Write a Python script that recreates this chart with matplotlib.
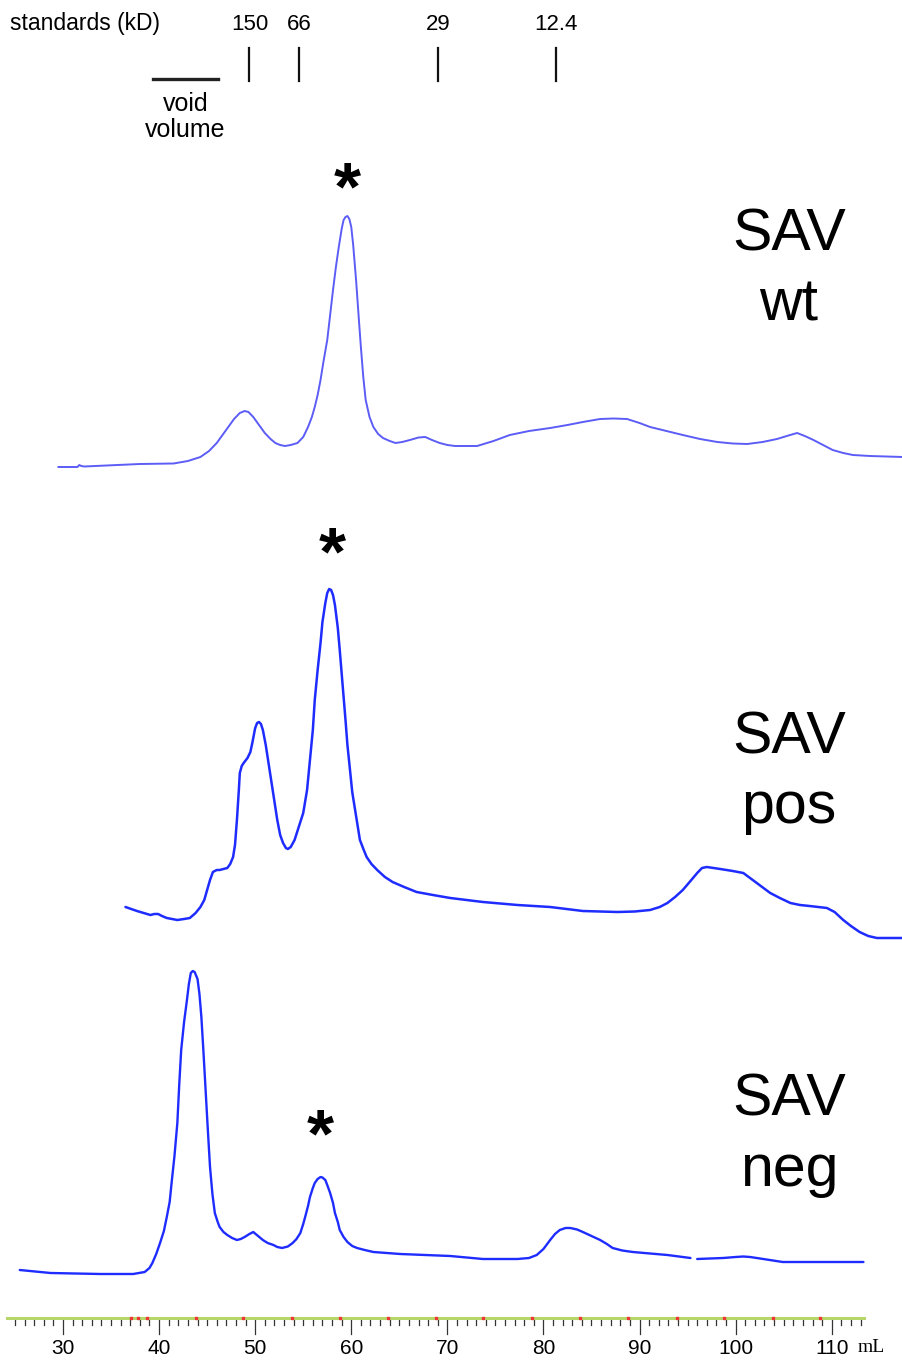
import numpy as np
import matplotlib
matplotlib.use("Agg")
import matplotlib.pyplot as plt

plt.rcParams["font.family"] = ["Liberation Sans", "DejaVu Sans"]

# elution volume (mL) and relative absorbance (a.u.)
wt_ml = [29.5, 31.5, 31.7, 31.9, 32.2, 38.0, 41.5, 43.0, 44.3, 45.2, 46.0, 46.6, 47.2, 47.8,
         48.4, 48.9, 49.3, 49.8, 50.4, 51.0, 51.6, 52.1, 52.6, 53.1, 53.7, 54.4, 55.0, 55.5,
         55.9, 56.2, 56.5, 56.8, 57.1, 57.5, 57.8, 58.1, 58.4, 58.7, 59.0, 59.2, 59.4, 59.6,
         59.8, 60.0, 60.2, 60.5, 60.75, 61.0, 61.25, 61.5, 61.9, 62.3, 62.8, 63.3, 64.0, 64.6,
         65.3, 66.1, 67.0, 67.7, 68.4, 69.2, 70.0, 70.8, 73.1, 74.8, 76.5, 78.5, 80.7, 82.5,
         84.1, 85.9, 87.3, 88.7, 90.0, 91.1, 92.8, 94.5, 96.3, 98.1, 99.7, 101.2, 102.8, 104.3,
         105.5, 106.4, 107.2, 108.1, 109.1, 110.1, 111.2, 112.2, 114.0, 117.4]
wt_abs = [0, 0, 2, 1, 0.5, 3, 3.5, 6, 10, 16, 24, 32, 40, 48,
          54, 56, 55, 50, 42, 34, 28, 24, 22, 21, 22, 24, 30, 40,
          50, 60, 72, 87, 105, 127, 152, 177, 200, 220, 238, 247, 250, 251,
          248, 240, 222, 187, 153, 120, 90, 67, 50, 40, 33, 29, 26, 24,
          25, 27, 29.5, 30, 27, 24, 22, 21, 21, 26, 32, 36, 39, 42,
          45, 48, 48.5, 48, 44, 40, 36, 32, 28, 25, 23.5, 23, 25, 28,
          31.5, 34, 31, 27, 22, 17, 14, 12, 11, 10]

pos_ml = [36.5, 37.7, 39.1, 39.5, 39.9, 40.3, 40.8, 41.9, 42.6, 43.2, 43.8, 44.3, 44.7, 45.0,
          45.3, 45.6, 46.0, 46.3, 46.7, 47.1, 47.4, 47.7, 47.9, 48.1, 48.3, 48.4, 48.6, 48.8,
          49.2, 49.5, 49.7, 50.0, 50.2, 50.4, 50.6, 50.8, 51.1, 51.5, 51.9, 52.3, 52.6, 52.9,
          53.2, 53.4, 53.7, 54.1, 54.5, 55.0, 55.4, 55.7, 56.0, 56.2, 56.5, 56.8, 57.0, 57.3,
          57.5, 57.7, 57.9, 58.1, 58.3, 58.6, 58.8, 59.1, 59.4, 59.6, 59.9, 60.1, 60.4, 60.7,
          60.9, 61.3, 61.6, 62.1, 62.7, 63.5, 64.3, 65.5, 66.8, 68.5, 70.3, 73.7, 77.3, 80.7,
          84.1, 87.7, 89.5, 91.1, 92.1, 92.9, 93.7, 94.5, 95.3, 96.0, 96.5, 97.0, 97.7, 98.4,
          99.7, 100.8, 101.5, 102.2, 102.9, 103.6, 104.6, 105.7, 106.7, 107.7, 108.6, 109.5, 110.3,
          111.2, 112.0, 112.9, 113.8, 114.7, 116.0, 117.4]
pos_abs = [33, 29, 25, 26, 26, 24, 22, 20, 21, 22, 27, 33, 40, 50,
           60, 68, 70, 70, 71, 72, 76, 83, 95, 120, 150, 167, 174, 177,
           182, 188, 197, 212, 217, 218, 216, 210, 195, 170, 145, 120, 105, 97,
           92, 91, 93, 100, 112, 127, 150, 180, 210, 240, 270, 297, 318, 337,
           347, 351, 350, 345, 335, 312, 290, 255, 220, 195, 167, 148, 130, 112,
           100, 90, 83, 76, 70, 63, 58, 53, 48, 45, 42, 38, 35, 33,
           29, 28, 28.5, 30, 33, 37, 43, 50, 59, 67, 72, 73, 72, 71,
           69, 67, 62, 57, 52, 47, 42, 37, 35, 34, 33, 32, 28,
           20, 14, 8, 4, 2, 2, 2]

neg_ml = [25.5, 28.7, 33.9, 37.3, 38.5, 39.0, 39.3, 39.7, 40.1, 40.5, 40.8, 41.1, 41.3, 41.6,
          41.9, 42.1, 42.3, 42.6, 42.9, 43.1, 43.3, 43.5, 43.7, 44.0, 44.2, 44.4, 44.6, 44.8,
          45.05, 45.3, 45.55, 45.8, 46.1, 46.3, 46.7, 47.1, 47.6, 48.1, 48.5, 48.9, 49.4, 49.8,
          50.3, 50.8, 51.3, 51.9, 52.3, 52.8, 53.4, 53.9, 54.3, 54.7, 55.0, 55.2, 55.5, 55.7,
          56.0, 56.2, 56.5, 56.8, 57.0, 57.3, 57.5, 57.8, 58.1, 58.3, 58.6, 58.8, 59.2, 59.6,
          60.1, 60.6, 61.4, 62.3, 65.1, 70.3, 73.7, 77.3, 78.5, 79.3, 80.0, 80.7, 81.2, 81.7,
          82.3, 82.8, 83.5, 84.1, 85.0, 85.9, 86.6, 87.2, 88.2, 89.3, 92.9, 95.3]
neg_abs = [4, 1, 0, 0, 2, 6, 11, 20, 31, 43, 57, 72, 91, 118,
           151, 190, 224, 252, 274, 290, 301, 303, 302, 295, 280, 257, 225, 191,
           148, 107, 80, 61, 52, 47, 42, 39, 36, 34, 35, 37, 40, 42,
           38, 34, 31, 29, 27, 26, 27.5, 31, 35, 41, 50, 57, 68, 77,
           86, 91, 95, 97, 96.5, 94, 89, 81, 71, 61, 52, 44, 37, 32,
           28, 26, 24, 22, 20, 18, 15, 15, 16, 19, 25, 34, 40, 44,
           46, 46, 44.5, 42, 38, 34, 30, 26, 23.5, 22, 19, 16]
# second piece of the neg trace (recorder gap near 95.5 mL)
neg2_ml = [96.0, 98.7, 100.0, 100.8, 101.5, 102.2, 104.9, 108.5, 113.3]
neg2_abs = [15, 16, 17, 17.5, 17, 16, 12, 12, 12]

# molecular weight standards (kD) and their elution volumes (mL)
std_labels = ["150", "66", "29", "12.4"]
std_ml = [49.4, 54.6, 69.0, 81.3]
void_ml = [39.4, 46.1]

# peak marked with an asterisk in each run (mL)
star_ml = [59.6, 58.0, 56.8]

# fraction marks on the volume ruler (mL)
frac_ml = [37.1, 37.8, 38.7, 43.8, 48.7, 53.8, 58.8, 63.8, 68.8, 73.7, 78.8, 83.8,
           88.8, 93.9, 98.8, 103.9, 108.8]
major_ticks = [30, 40, 50, 60, 70, 80, 90, 100, 110]

W, H = 903, 1361
PX_PER_ML = 9.609
ML0 = 30 - 63 / PX_PER_ML


def yy(py):
    # pixel row -> data y (data y grows upward)
    return H - py


def xx(px):
    return ML0 + px / PX_PER_ML


fig = plt.figure(figsize=(W / 100, H / 100), dpi=100)
ax = fig.add_axes([0, 0, 1, 1])
ax.set_xlim(ML0, ML0 + W / PX_PER_ML)
ax.set_ylim(0, H)
ax.axis("off")

# traces, each shifted to its own row
kw = dict(solid_joinstyle="round", solid_capstyle="round")
ax.plot(wt_ml, np.array(wt_abs) + yy(467), color="#5c5cf6", lw=1.4, **kw)
ax.plot(pos_ml, np.array(pos_abs) + yy(940), color="#1e2cff", lw=1.8, **kw)
ax.plot(neg_ml, np.array(neg_abs) + yy(1274), color="#1e2cff", lw=1.7, **kw)
ax.plot(neg2_ml, np.array(neg2_abs) + yy(1274), color="#1e2cff", lw=1.7, **kw)

# asterisks
for xm, py in zip(star_ml, [178, 543, 1125]):
    ax.text(xm, yy(py) - 13, "*", fontsize=50, fontweight="bold", ha="center", va="center")

# sample names
for py, name in zip([250, 753, 1116], ["wt", "pos", "neg"]):
    ax.text(xx(789), yy(py), "SAV", fontsize=42.5, ha="center", va="baseline")
    ax.text(xx(789), yy(py + 70), name, fontsize=42.5, ha="center", va="baseline")

# standards
ax.text(xx(10), yy(30), "standards (kD)", fontsize=16.5, ha="left", va="baseline")
for lab, xm in zip(std_labels, std_ml):
    ax.text(xm, yy(30), lab, fontsize=16, ha="center", va="baseline")
    ax.plot([xm, xm], [yy(48), yy(81)], color="#111111", lw=1.6)
ax.plot(void_ml, [yy(79), yy(79)], color="#222222", lw=2.4)
vx = sum(void_ml) / 2
ax.text(vx, yy(104), "void", fontsize=18, ha="center", va="center")
ax.text(vx, yy(130), "volume", fontsize=18, ha="center", va="center")

# volume ruler
ax.plot([xx(7), xx(864)], [yy(1318), yy(1318)], color="#b7d66a", lw=2.2, zorder=3)
for t in range(25, 114):
    ln = 15 if t % 10 == 0 else 6
    ax.plot([t, t], [yy(1319), yy(1319 + ln)], color="#333333", lw=0.9)
ax.plot(frac_ml, [yy(1318)] * len(frac_ml), ls="none", marker="s", ms=1.6,
        color="#ee3333", zorder=4)
for t in major_ticks:
    ax.text(t, yy(1348), str(t), fontsize=15, ha="center", va="center")
ax.text(xx(858), yy(1347), "mL", fontsize=14, ha="left", va="center",
        family=["Liberation Serif", "DejaVu Serif"])

fig.savefig("out.png", dpi=100, facecolor="white")
